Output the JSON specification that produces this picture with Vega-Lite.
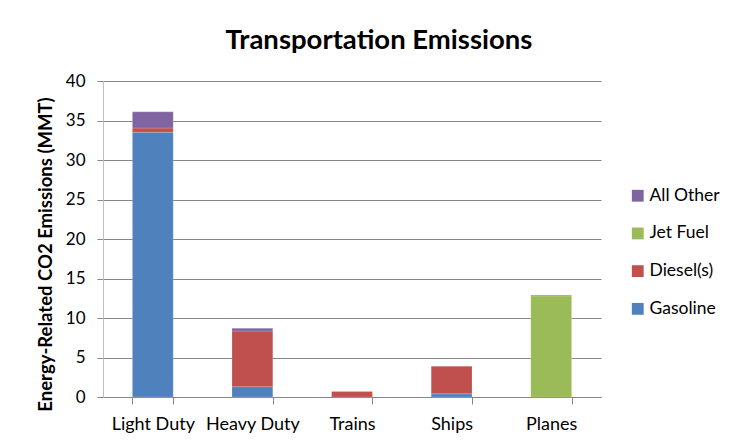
{
  "$schema": "https://vega.github.io/schema/vega-lite/v6.json",
  "width": 498,
  "height": 316,
  "autosize": {"type": "none"},
  "padding": {"left": 103, "top": 81, "right": 135, "bottom": 50},
  "background": "white",
  "title": {
    "text": "Transportation Emissions",
    "font": "Lato",
    "fontSize": 27.5,
    "fontWeight": "bold",
    "color": "#000000",
    "anchor": "middle",
    "dx": 27,
    "offset": 18
  },
  "data": {
    "values": [
      {"mode": "Light Duty", "fuel": "Gasoline", "mmt": 33.5},
      {"mode": "Light Duty", "fuel": "Diesel(s)", "mmt": 0.55},
      {"mode": "Light Duty", "fuel": "All Other", "mmt": 2.05},
      {"mode": "Heavy Duty", "fuel": "Gasoline", "mmt": 1.3},
      {"mode": "Heavy Duty", "fuel": "Diesel(s)", "mmt": 7.05},
      {"mode": "Heavy Duty", "fuel": "All Other", "mmt": 0.35},
      {"mode": "Trains", "fuel": "Diesel(s)", "mmt": 0.7},
      {"mode": "Ships", "fuel": "Gasoline", "mmt": 0.4},
      {"mode": "Ships", "fuel": "Diesel(s)", "mmt": 3.5},
      {"mode": "Planes", "fuel": "Jet Fuel", "mmt": 12.8},
      {"mode": "Planes", "fuel": "All Other", "mmt": 0.08}
    ]
  },
  "mark": {"type": "bar", "stroke": "white", "strokeOpacity": 0.35, "strokeWidth": 0.5},
  "encoding": {
    "x": {
      "field": "mode",
      "type": "nominal",
      "sort": ["Light Duty", "Heavy Duty", "Trains", "Ships", "Planes"],
      "scale": {"paddingInner": 0.59, "paddingOuter": 0.295},
      "axis": {
        "title": null,
        "labelAngle": 0,
        "labelFont": "Lato",
        "labelFontSize": 18,
        "labelColor": "#000000",
        "labelPadding": 11,
        "tickBand": "extent",
        "tickSize": 7,
        "tickColor": "#868686",
        "domainColor": "#868686"
      }
    },
    "y": {
      "field": "mmt",
      "type": "quantitative",
      "stack": "zero",
      "scale": {"domain": [0, 40], "nice": false},
      "axis": {
        "title": "Energy-Related CO2 Emissions (MMT)",
        "titleFont": "Lato",
        "titleFontSize": 18.5,
        "titleFontWeight": "bold",
        "titleColor": "#000000",
        "titlePadding": 10,
        "titleY": 173,
        "values": [0, 5, 10, 15, 20, 25, 30, 35, 40],
        "labelFont": "Lato",
        "labelFontSize": 17,
        "labelColor": "#000000",
        "labelPadding": 12,
        "tickSize": 6,
        "tickColor": "#868686",
        "domainColor": "#BFBFBF",
        "grid": true,
        "gridColor": "#868686",
        "gridWidth": 1
      }
    },
    "color": {
      "field": "fuel",
      "type": "nominal",
      "scale": {
        "domain": ["All Other", "Jet Fuel", "Diesel(s)", "Gasoline"],
        "range": ["#8064A2", "#9BBB59", "#C0504D", "#4F81BD"]
      },
      "legend": {
        "title": null,
        "orient": "none",
        "legendX": 526,
        "legendY": 106,
        "symbolType": "square",
        "symbolSize": 140,
        "symbolStrokeWidth": 0,
        "labelFont": "Lato",
        "labelFontSize": 17.5,
        "labelColor": "#000000",
        "labelOffset": 3,
        "rowPadding": 18.7
      }
    },
    "order": {"field": "fuel", "sort": "descending"}
  },
  "config": {
    "view": {"stroke": null}
  }
}
